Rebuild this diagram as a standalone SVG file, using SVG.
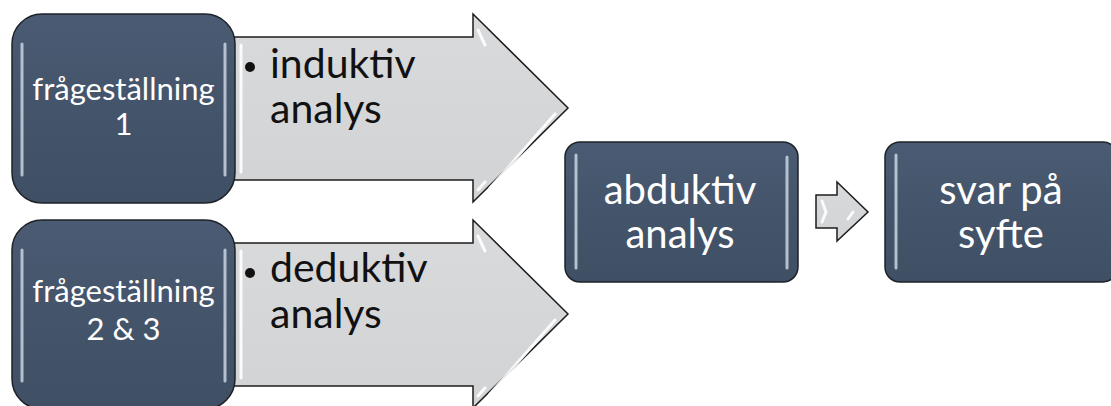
<svg xmlns="http://www.w3.org/2000/svg" width="1111" height="406" viewBox="0 0 1111 406">
<defs>
<linearGradient id="boxg" x1="0" y1="0" x2="0" y2="1">
<stop offset="0" stop-color="#4a5b73"/>
<stop offset="0.5" stop-color="#44546a"/>
<stop offset="1" stop-color="#3f4f64"/>
</linearGradient>
<linearGradient id="arrg" x1="0" y1="0" x2="0" y2="1">
<stop offset="0" stop-color="#d9dadc"/>
<stop offset="1" stop-color="#d2d3d5"/>
</linearGradient>
<style>
.box{fill:url(#boxg);stroke:#1e2228;stroke-width:1.5}
.arr{fill:url(#arrg);stroke:#1c1c1c;stroke-width:1.5;stroke-linejoin:miter}
.hl{stroke:#c9d3e0;stroke-width:3;stroke-linecap:round;opacity:0.85;fill:none}
.hla{stroke:#ffffff;stroke-width:3;stroke-linecap:round;opacity:0.9;fill:none}
.wt{font-family:Lato,"Liberation Sans",sans-serif;fill:#ffffff;text-anchor:middle}
.bt{font-family:Lato,"Liberation Sans",sans-serif;fill:#111111}
</style>
</defs>
<rect width="1111" height="406" fill="#ffffff"/>

<g id="arrow-induktiv">
<path class="arr" d="M225,37 H473 V14 L568,108 L473,202 V180 H225 Z"/>
<path class="hla" d="M478,30 L485,45 M478,190 L485,182 M490,188 L555,114"/>
<path class="hla" d="M241,45 V172"/>
<circle cx="250" cy="67" r="5" fill="#111"/>
<text class="bt" x="270" y="78" font-size="41">induktiv</text>
<text class="bt" x="270" y="123" font-size="41">analys</text>
</g>

<g id="arrow-deduktiv">
<path class="arr" d="M225,243 H473 V220 L568,314 L473,408 V386 H225 Z"/>
<path class="hla" d="M478,236 L485,251 M478,396 L485,388 M490,394 L555,320"/>
<path class="hla" d="M241,251 V378"/>
<circle cx="250" cy="273" r="5" fill="#111"/>
<text class="bt" x="270" y="282" font-size="41">deduktiv</text>
<text class="bt" x="270" y="328" font-size="41">analys</text>
</g>

<g id="q1">
<rect class="box" x="12" y="14" width="223" height="189" rx="30"/>
<path class="hl" d="M22,44 V175 M225,44 V175"/>
<text class="wt" x="123.5" y="100" font-size="31">frågeställning</text>
<text class="wt" x="123.5" y="135" font-size="31">1</text>
</g>

<g id="q23">
<rect class="box" x="12" y="220" width="223" height="189" rx="30"/>
<path class="hl" d="M22,250 V381 M225,250 V381"/>
<text class="wt" x="123.5" y="302" font-size="31">frågeställning</text>
<text class="wt" x="123.5" y="340" font-size="31">2 &amp; 3</text>
</g>

<g id="abduktiv">
<rect class="box" x="565" y="142" width="233" height="140" rx="15"/>
<path class="hl" d="M576,155 V268 M787,157 V268"/>
<text class="wt" x="680" y="204" font-size="40">abduktiv</text>
<text class="wt" x="680" y="248" font-size="40">analys</text>
</g>

<g id="svar">
<rect class="box" x="885" y="142" width="233" height="140" rx="15"/>
<path class="hl" d="M896,155 V268"/>
<text class="wt" x="1001" y="204" font-size="40">svar på</text>
<text class="wt" x="1001" y="248" font-size="40">syfte</text>
</g>

<g id="connectors">
<path class="arr" d="M816,195 H837 V182 L868,212 L837,241 V228 H816 Z"/>
<path class="hla" d="M822,201 L826,212 L822,222 M853,212 L848,219"/>
</g>
</svg>
